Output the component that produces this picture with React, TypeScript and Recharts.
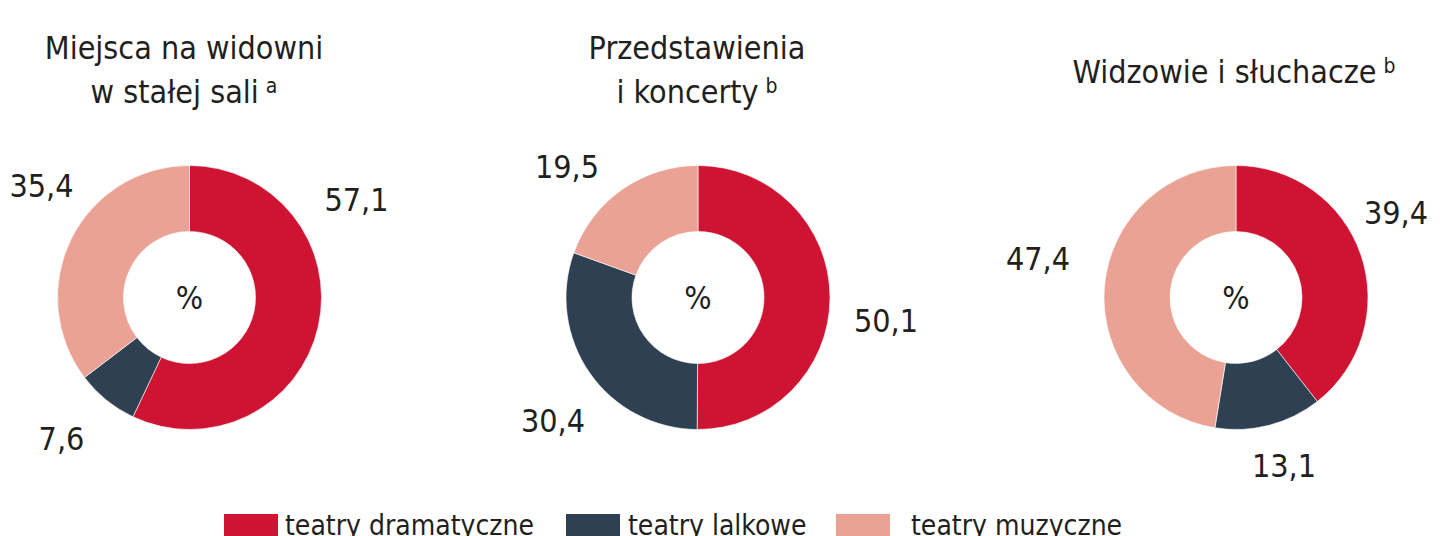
import React from 'react';
import { PieChart, Pie, Cell } from 'recharts';

const categories = ['teatry dramatyczne', 'teatry lalkowe', 'teatry muzyczne'];
const colors = ['#CE1432', '#2F4052', '#E9A294'];

const seatsShare = [57.1, 7.6, 35.4];
const showsShare = [50.1, 30.4, 19.5];
const audienceShare = [39.4, 13.1, 47.4];

const FONT = '"DejaVu Sans Condensed", "DejaVu Sans", sans-serif';
const INK = '#231F20';

// where each value label sits, relative to the donut centre
const labelOffsets = [
  [[167, -98], [-128, 141], [-148, -112]],
  [[188, 23], [-145, 123], [-131, -131]],
  [[160, -85], [48, 168], [-198, -39]],
];

// legend swatch / text left edges
const legendSwatchX = [224, 566, 836];
const legendTextX = [285, 628, 911];

const toRows = (values: number[]) =>
  values.map((v, i) => ({ name: categories[i], value: v }));

const fmt = (v: number) => v.toFixed(1).replace('.', ',');

const makeLabel = (chart: number) => (props: any) => {
  const { cx, cy, index, value } = props;
  const [dx, dy] = labelOffsets[chart][index];
  return (
    <g key={`lbl-${chart}-${index}`}>
      <text x={cx + dx} y={cy + dy} textAnchor="middle" dominantBaseline="central" fill={INK} fontSize={32}>
        {fmt(value)}
      </text>
      {index === 0 && (
        <text x={cx} y={cy} textAnchor="middle" dominantBaseline="central" fill={INK} fontSize={32}>
          %
        </text>
      )}
    </g>
  );
};

const donuts = [
  { values: seatsShare, cx: 184.5 },
  { values: showsShare, cx: 693 },
  { values: audienceShare, cx: 1231 },
];

function Title({ left, top, lines }: { left: number; top: number; lines: React.ReactNode[] }) {
  return (
    <div style={{ position: 'absolute', left: left - 200, top, width: 400, textAlign: 'center', fontSize: 32, lineHeight: '44px', color: INK }}>
      {lines.map((l, i) => <div key={i}>{l}</div>)}
    </div>
  );
}

const sup = (s: string) => <sup style={{ fontSize: 21, verticalAlign: 'top', position: 'relative', top: -6, marginLeft: 7 }}>{s}</sup>;

export default function App() {
  return (
    <div style={{ position: 'relative', width: 1440, height: 536, overflow: 'hidden', background: '#fff', fontFamily: FONT }}>
      <style>{'body{margin:0}'}</style>
      <PieChart width={1440} height={536} style={{ position: 'absolute', left: 0, top: 0 }}>
        {donuts.map((d, k) => (
          <Pie
            key={k}
            data={toRows(d.values)}
            dataKey="value"
            cx={d.cx}
            cy={292.5}
            innerRadius={66}
            outerRadius={132}
            startAngle={90}
            endAngle={-270}
            stroke="#fff"
            strokeWidth={0.6}
            label={makeLabel(k)}
            labelLine={false}
            isAnimationActive={false}
          >
            {d.values.map((_, i) => <Cell key={i} fill={colors[i]} />)}
          </Pie>
        ))}
      </PieChart>
      <Title left={184} top={26} lines={['Miejsca na widowni', <>w stałej sali{sup('a')}</>]} />
      <Title left={697} top={26} lines={['Przedstawienia', <>i koncerty{sup('b')}</>]} />
      <Title left={1234} top={50} lines={[<>Widzowie i słuchacze{sup('b')}</>]} />
      {categories.map((c, i) => (
        <React.Fragment key={c}>
          <div style={{ position: 'absolute', left: legendSwatchX[i], top: 514, width: 54, height: 30, background: colors[i] }} />
          <div style={{ position: 'absolute', left: legendTextX[i], top: 506, fontSize: 28, lineHeight: '40px', color: INK, whiteSpace: 'nowrap' }}>{c}</div>
        </React.Fragment>
      ))}
    </div>
  );
}
